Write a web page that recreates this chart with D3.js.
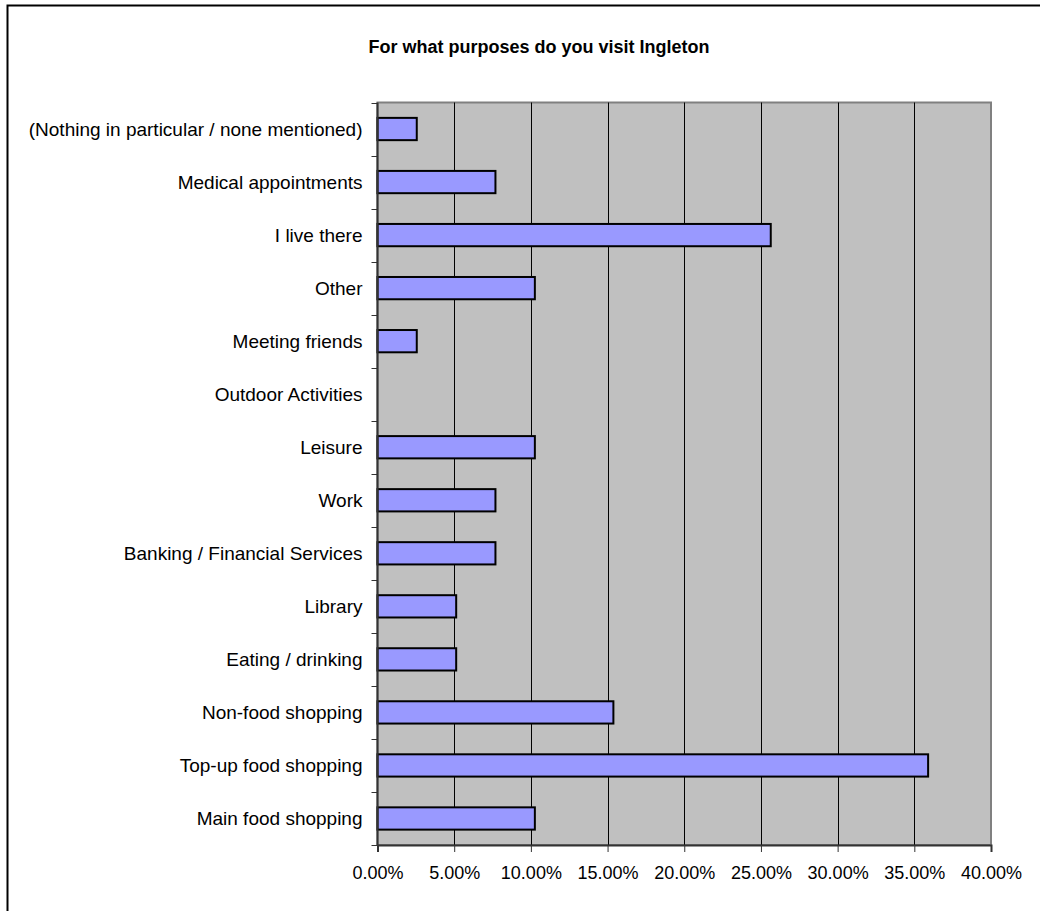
<!DOCTYPE html>
<html><head><meta charset="utf-8">
<script src="https://cdn.jsdelivr.net/npm/d3@7"></script>
<style>body{margin:0;background:#fff}svg{display:block}text{font-family:"Liberation Sans",Arial,sans-serif}</style>
</head><body>
<script>
const categories = ["(Nothing in particular / none mentioned)","Medical appointments","I live there","Other","Meeting friends","Outdoor Activities","Leisure","Work","Banking / Financial Services","Library","Eating / drinking","Non-food shopping","Top-up food shopping","Main food shopping"];
const values = [2.56,7.69,25.64,10.26,2.56,0,10.26,7.69,7.69,5.13,5.13,15.38,35.90,10.26];
const xTicks = [0,5,10,15,20,25,30,35,40];
const title = "For what purposes do you visit Ingleton";

const W=1040,H=911;
const svg=d3.select("body").append("svg").attr("width",W).attr("height",H);
svg.append("rect").attr("x",7.5).attr("y",5.5).attr("width",W).attr("height",H).attr("fill","#fff").attr("stroke","#000").attr("stroke-width",2);

const L=377.5,R=991,T=102.5,B=845;
const x=d3.scaleLinear().domain([0,40]).range([L,R]);
const y=d3.scaleBand().domain(categories).range([T,B]).paddingInner(0.58).paddingOuter(0.29);
const yb=d3.scaleBand().domain(categories).range([T,B]);

svg.append("rect").attr("x",L).attr("y",T).attr("width",R-L).attr("height",B-T).attr("fill","#c0c0c0").attr("stroke","#808080").attr("stroke-width",2);

svg.append("g").selectAll("line").data(xTicks.slice(1,-1)).join("line")
 .attr("x1",d=>Math.round(x(d))+0.5).attr("x2",d=>Math.round(x(d))+0.5).attr("y1",T).attr("y2",B)
 .attr("stroke","#000").attr("stroke-width",1);

svg.append("g").selectAll("rect").data(values).join("rect")
 .attr("x",x(0)).attr("y",(d,i)=>y(categories[i])).attr("width",d=>x(d)-x(0)).attr("height",y.bandwidth())
 .attr("fill",d=>d>0?"#9999ff":"none").attr("stroke",d=>d>0?"#000":"none").attr("stroke-width",2);

// x axis
const xa=svg.append("g").attr("transform",`translate(0,${B})`)
 .call(d3.axisBottom(x).tickValues(xTicks).tickFormat(d=>d.toFixed(2)+"%").tickSize(7).tickPadding(14));
xa.select(".domain").attr("stroke","#333").attr("stroke-width",2);
xa.selectAll(".tick line").attr("stroke","#333");
xa.selectAll("text").attr("font-size",18).attr("fill","#000").attr("font-family","Liberation Sans, Arial, sans-serif");

// y axis
const ticksY=categories.map(c=>yb(c)).concat([B]);
svg.append("g").selectAll("line").data(ticksY).join("line")
 .attr("x1",L-6).attr("x2",L).attr("y1",d=>Math.round(d)+0.5).attr("y2",d=>Math.round(d)+0.5).attr("stroke","#333");
svg.append("line").attr("x1",L).attr("x2",L).attr("y1",T).attr("y2",B).attr("stroke","#333").attr("stroke-width",2);
svg.append("g").selectAll("text").data(categories).join("text")
 .attr("x",L-15).attr("y",d=>yb(d)+yb.bandwidth()/2).attr("dy","0.35em").attr("text-anchor","end")
 .attr("font-size",19).attr("fill","#000").text(d=>d);

svg.append("text").attr("x",539).attr("y",53).attr("text-anchor","middle").attr("font-size",18).attr("font-weight","bold").text(title);
</script>
</body></html>
